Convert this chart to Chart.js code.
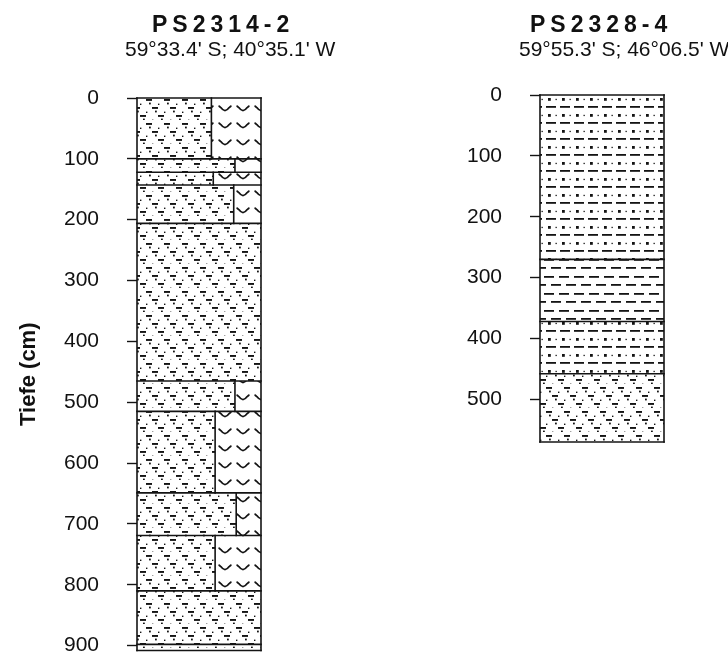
<!DOCTYPE html>
<html>
<head>
<meta charset="utf-8">
<script src="https://cdn.jsdelivr.net/npm/chart.js@4/dist/chart.umd.min.js"></script>
<style>
  html, body { margin: 0; padding: 0; background: #ffffff; }
  #wrap { position: relative; width: 728px; height: 654px; overflow: hidden; }
  #wrap canvas { position: absolute; top: 0; }
  #core1 { left: 0; }
  #core2 { left: 364px; }
</style>
</head>
<body>
<div id="wrap">
  <canvas id="core1" width="364" height="654"></canvas>
  <canvas id="core2" width="364" height="654"></canvas>
</div>
<script>
// ---- Core PS2314-2: layer intervals (cm) and terrigenous share of each layer ----
const core1Name = 'PS2314-2';
const core1Position = "59°33.4' S; 40°35.1' W";
const core1Tops    = [0,   100, 122, 143, 206, 465, 515, 649, 719, 810, 898];
const core1Bottoms = [100, 122, 143, 206, 465, 515, 649, 719, 810, 898, 908];
const core1Terrigenous = [0.60, 0.79, 0.615, 0.78, 1, 0.79, 0.63, 0.80, 0.63, 1, 1];
const core1Ticks = [0, 100, 200, 300, 400, 500, 600, 700, 800, 900];

// ---- Core PS2328-4: layer intervals (cm) and lithology ----
const core2Name = 'PS2328-4';
const core2Position = "59°55.3' S; 46°06.5' W";
const core2Tops    = [0,   270, 372, 458];
const core2Bottoms = [270, 372, 458, 570];
const core2Lithology = ['sandySilt', 'mud', 'sandySilt', 'siltyClay'];
const core2Ticks = [0, 100, 200, 300, 400, 500];

const depthTitle = 'Tiefe (cm)';

// ---- lithology fill patterns ----
const INK = '#141414';
const FONT = '"Liberation Sans", Arial, Helvetica, sans-serif';

function makeTile(w, h, draw) {
  const c = document.createElement('canvas');
  c.width = w; c.height = h;
  const g = c.getContext('2d');
  g.fillStyle = '#ffffff';
  g.fillRect(0, 0, w, h);
  g.fillStyle = INK;
  g.strokeStyle = INK;
  draw(g, w, h);
  return c;
}
function wrapRect(g, w, x, y, rw, rh) {
  g.fillRect(x, y, rw, rh);
  if (x + rw > w) g.fillRect(x - w, y, rw, rh);
}

const tiles = {
  // silty clay: staggered short dashes with dots
  siltyClay: makeTile(18, 24, (g, w) => {
    for (let k = 0; k < 3; k++) {
      const y = 3 + 8 * k;
      const x = (2 + 6 * k) % w;
      wrapRect(g, w, x, y, 6, 1.9);
      wrapRect(g, w, (x + 3) % w, y + 3.6, 1.8, 1.8);
      wrapRect(g, w, (x + 12) % w, y + 4.6, 1.4, 1.4);
    }
  }),
  // diatom ooze: cup symbols
  diatom: makeTile(18, 17, g => {
    g.lineWidth = 1.8;
    g.lineCap = 'round';
    g.lineJoin = 'round';
    g.beginPath();
    g.moveTo(3.2, 4.2);
    g.lineTo(4.8, 5.6);
    g.quadraticCurveTo(9, 11.5, 13.2, 5.6);
    g.lineTo(14.8, 4.2);
    g.stroke();
  }),
  // sandy silt: dot rows alternating with dash rows
  sandySilt: makeTile(28, 16, g => {
    g.fillRect(2, 2, 2.8, 2.8);
    g.fillRect(16, 2, 2.8, 2.8);
    g.fillRect(9.5, 2.8, 1.3, 1.3);
    g.fillRect(23.5, 2.8, 1.3, 1.3);
    g.fillRect(0, 10, 10, 1.8);
    g.fillRect(14, 10, 10, 1.8);
  }),
  // mud: staggered dash rows
  mud: makeTile(30, 17, (g, w) => {
    g.fillRect(0, 4, 10, 1.8);
    g.fillRect(15, 4, 10, 1.8);
    wrapRect(g, w, 7, 12, 10, 1.8);
    wrapRect(g, w, 22, 12, 10, 1.8);
  })
};

function patternsFor(canvas) {
  const ctx = canvas.getContext('2d');
  const p = {};
  for (const k in tiles) p[k] = ctx.createPattern(tiles[k], 'repeat');
  return p;
}

// ---- dataset helpers: filled layer rectangles and outline strokes ----
function fillSet(x0, x1, top, bottom, pattern) {
  return {
    data: [{ x: x0, y: top }, { x: x1, y: top }],
    fill: { value: bottom },
    backgroundColor: pattern,
    borderColor: 'rgba(0,0,0,0)',
    borderWidth: 0,
    pointRadius: 0,
    tension: 0,
    order: 1
  };
}
function lineSet(points) {
  return {
    data: points,
    fill: false,
    borderColor: INK,
    borderWidth: 1.6,
    borderCapStyle: 'square',
    pointRadius: 0,
    tension: 0,
    clip: false,
    order: 0
  };
}

// ---- station header (name + position) ----
const headerPlugin = {
  id: 'coreHeader',
  afterDraw(chart, args, o) {
    const ctx = chart.ctx;
    ctx.save();
    ctx.fillStyle = '#111111';
    ctx.textAlign = 'left';
    ctx.textBaseline = 'alphabetic';
    ctx.font = 'bold 23px ' + FONT;
    if ('letterSpacing' in ctx) ctx.letterSpacing = '5px';
    ctx.fillText(o.name, o.nameX, o.nameY);
    if ('letterSpacing' in ctx) ctx.letterSpacing = '0px';
    ctx.font = '21px ' + FONT;
    ctx.fillText(o.position, o.posX, o.posY);
    ctx.restore();
  }
};

function depthAxis(maxDepth, ticks, axisWidth, withTitle) {
  return {
    type: 'linear',
    reverse: true,
    min: 0,
    max: maxDepth,
    afterBuildTicks: s => { s.ticks = ticks.map(v => ({ value: v })); },
    afterFit: s => { s.width = axisWidth; s.paddingTop = 0; s.paddingBottom = 0; },
    grid: { drawOnChartArea: false, drawTicks: true, tickLength: 10, tickColor: INK, tickWidth: 1.4 },
    border: { display: false },
    ticks: { padding: 28, color: '#111111', font: { family: FONT, size: 21 } },
    title: {
      display: withTitle,
      text: depthTitle,
      color: '#111111',
      font: { family: FONT, size: 22, weight: 'bold' },
      padding: { top: 16, bottom: 0 }
    }
  };
}

function buildChart(canvas, datasets, yAxis, padding, header) {
  return new Chart(canvas, {
    type: 'line',
    data: { datasets },
    options: {
      responsive: false,
      animation: false,
      devicePixelRatio: 1,
      events: [],
      layout: { padding },
      plugins: {
        legend: { display: false },
        tooltip: { enabled: false },
        coreHeader: header
      },
      scales: {
        x: { type: 'linear', min: 0, max: 1, display: false },
        y: yAxis
      }
    },
    plugins: [headerPlugin]
  });
}

// ---- PS2314-2: terrigenous / diatom split per layer ----
(function () {
  const canvas = document.getElementById('core1');
  const pat = patternsFor(canvas);
  const fills = [], lines = [];
  const maxDepth = core1Bottoms[core1Bottoms.length - 1];
  core1Tops.forEach((top, i) => {
    const bottom = core1Bottoms[i];
    const f = core1Terrigenous[i];
    fills.push(fillSet(0, f, top, bottom, pat.siltyClay));
    if (f < 1) {
      fills.push(fillSet(f, 1, top, bottom, pat.diatom));
      lines.push(lineSet([{ x: f, y: top }, { x: f, y: bottom }]));
    }
    lines.push(lineSet([{ x: 0, y: top }, { x: 1, y: top }]));
  });
  lines.push(lineSet([{ x: 0, y: maxDepth }, { x: 1, y: maxDepth }]));
  lines.push(lineSet([{ x: 0, y: 0 }, { x: 0, y: maxDepth }]));
  lines.push(lineSet([{ x: 1, y: 0 }, { x: 1, y: maxDepth }]));
  buildChart(canvas, lines.concat(fills),
    depthAxis(maxDepth, core1Ticks, 137, true),
    { left: 0, right: 103, top: 98, bottom: 3.5 },
    { name: core1Name, nameX: 152, nameY: 32, position: core1Position, posX: 125, posY: 56 });
})();

// ---- PS2328-4: lithology per layer ----
(function () {
  const canvas = document.getElementById('core2');
  const pat = patternsFor(canvas);
  const fills = [], lines = [];
  const maxDepth = core2Bottoms[core2Bottoms.length - 1];
  core2Tops.forEach((top, i) => {
    fills.push(fillSet(0, 1, top, core2Bottoms[i], pat[core2Lithology[i]]));
    lines.push(lineSet([{ x: 0, y: top }, { x: 1, y: top }]));
  });
  lines.push(lineSet([{ x: 0, y: maxDepth }, { x: 1, y: maxDepth }]));
  lines.push(lineSet([{ x: 0, y: 0 }, { x: 0, y: maxDepth }]));
  lines.push(lineSet([{ x: 1, y: 0 }, { x: 1, y: maxDepth }]));
  buildChart(canvas, lines.concat(fills),
    depthAxis(maxDepth, core2Ticks, 176, false),
    { left: 0, right: 64, top: 95, bottom: 212 },
    { name: core2Name, nameX: 166, nameY: 32, position: core2Position, posX: 155, posY: 56 });
})();
</script>
</body>
</html>
